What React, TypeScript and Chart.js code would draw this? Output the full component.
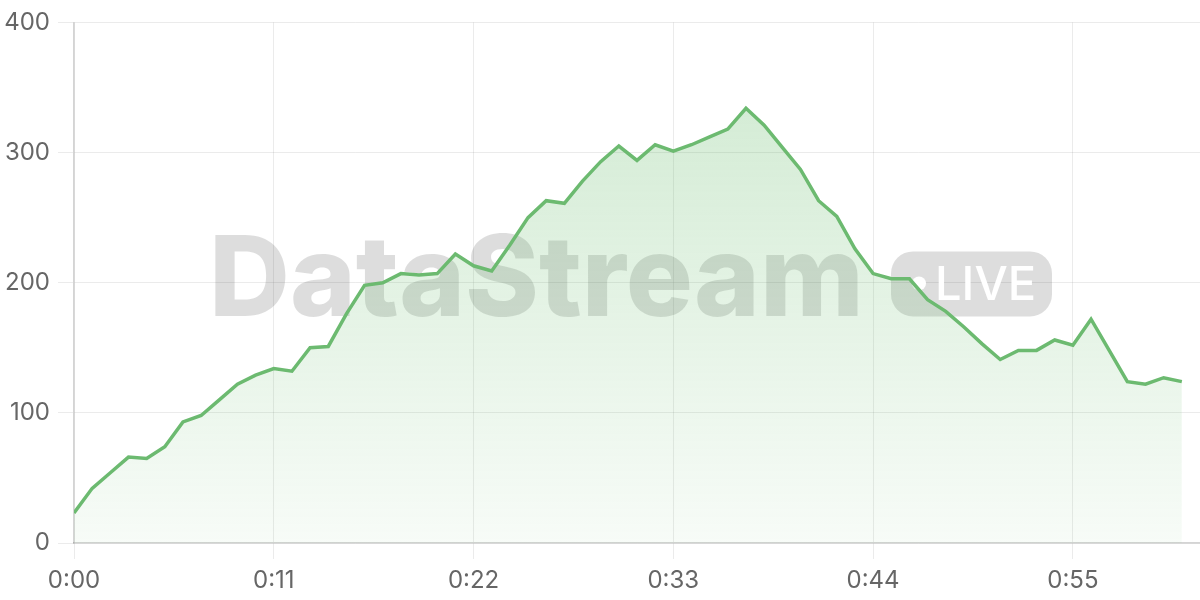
import React, { useEffect, useRef } from "react";
import { Chart, registerables } from "chart.js";

Chart.register(...registerables);

// Elapsed time in seconds for each sample
const SECONDS = [
  0, 1, 2, 3, 4, 5, 6, 7, 8, 9, 10, 11, 12, 13, 14, 15, 16, 17, 18, 19, 20,
  21, 22, 23, 24, 25, 26, 27, 28, 29, 30, 31, 32, 33, 34, 35, 36, 37, 38, 39,
  40, 41, 42, 43, 44, 45, 46, 47, 48, 49, 50, 51, 52, 53, 54, 55, 56, 57, 58,
  59, 60, 61,
];

// Live values
const VALUES = [
  23, 42, 54, 66, 65, 74, 93, 98, 110, 122, 129, 134, 132, 150, 151, 176, 198,
  200, 207, 206, 207, 222, 213, 209, 229, 250, 263, 261, 278, 293, 305, 294,
  306, 301, 306, 312, 318, 334, 321, 304, 287, 263, 251, 226, 207, 203, 203,
  187, 178, 166, 153, 141, 148, 148, 156, 152, 172, 148, 124, 122, 127, 124,
];

const X_TICKS = [0, 11, 22, 33, 44, 55];
const Y_TICKS = [0, 100, 200, 300, 400];

const WATERMARK_TEXT = "DataStream";
const BADGE_TEXT = "LIVE";

const fmtTime = (s: number) => {
  const m = Math.floor(s / 60);
  const r = s % 60;
  return `${m}:${r < 10 ? "0" : ""}${r}`;
};

const watermarkPlugin = {
  id: "watermark",
  beforeDatasetsDraw(chart: any) {
    const { ctx, chartArea } = chart;
    const ox = chartArea.left;
    const oy = chartArea.top;
    ctx.save();
    ctx.fillStyle = "rgba(0,0,0,0.135)";
    ctx.font = "800 112px Inter";
    ctx.textBaseline = "alphabetic";
    ctx.textAlign = "left";
    ctx.fillText(WATERMARK_TEXT, ox + 135, oy + 294);
    // pill
    const px = ox + 817;
    const py = oy + 229;
    const pw = 161;
    const ph = 65;
    const r = 22;
    ctx.beginPath();
    ctx.moveTo(px + r, py);
    ctx.lineTo(px + pw - r, py);
    ctx.arcTo(px + pw, py, px + pw, py + r, r);
    ctx.lineTo(px + pw, py + ph - r);
    ctx.arcTo(px + pw, py + ph, px + pw - r, py + ph, r);
    ctx.lineTo(px + r, py + ph);
    ctx.arcTo(px, py + ph, px, py + ph - r, r);
    ctx.lineTo(px, py + r);
    ctx.arcTo(px, py, px + r, py, r);
    ctx.closePath();
    ctx.fill();
    ctx.fillStyle = "#ffffff";
    ctx.beginPath();
    ctx.arc(px + 28, py + 32, 7, 0, Math.PI * 2);
    ctx.fill();
    ctx.font = "500 47px Inter";
    ctx.fillText(BADGE_TEXT, px + 44, py + 49);
    ctx.restore();
  },
};

export default function App() {
  const ref = useRef<HTMLCanvasElement | null>(null);

  useEffect(() => {
    if (!ref.current) return;
    const chart = new Chart(ref.current, {
      type: "line",
      data: {
        datasets: [
          {
            data: SECONDS.map((s, i) => ({ x: s, y: VALUES[i] })),
            borderColor: "#6cba70",
            borderWidth: 3.5,
            pointRadius: 0,
            tension: 0,
            fill: "origin",
            backgroundColor: (context: any) => {
              const { chart } = context;
              const area = chart.chartArea;
              if (!area) return "rgba(102,187,106,0.2)";
              const g = chart.ctx.createLinearGradient(0, area.top, 0, area.bottom);
              g.addColorStop(0, "rgba(102,187,106,0.32)");
              g.addColorStop(1, "rgba(102,187,106,0.05)");
              return g;
            },
          },
        ],
      },
      options: {
        responsive: false,
        animation: false,
        layout: { padding: { top: 16, left: 5, right: 0, bottom: 0 } },
        plugins: {
          legend: { display: false },
          tooltip: { enabled: false },
        },
        scales: {
          x: {
            type: "linear",
            min: 0,
            max: 62,
            afterBuildTicks: (scale: any) => {
              scale.ticks = X_TICKS.map((v) => ({ value: v }));
            },
            afterFit: (scale: any) => {
              scale.height = 57;
            },
            grid: {
              color: "rgba(0,0,0,0.08)",
              tickLength: 16,
              tickColor: "rgba(0,0,0,0.08)",
            },
            border: { color: "rgba(0,0,0,0.17)", width: 1.5 },
            ticks: {
              padding: 7,
              color: "#666",
              font: { family: "Inter", size: 24 },
              callback: (v: any) => fmtTime(Number(v)),
              maxRotation: 0,
            },
          },
          y: {
            type: "linear",
            min: 0,
            max: 400,
            afterBuildTicks: (scale: any) => {
              scale.ticks = Y_TICKS.map((v) => ({ value: v }));
            },
            afterFit: (scale: any) => {
              scale.width = 69;
            },
            grid: {
              color: "rgba(0,0,0,0.08)",
              tickLength: 16,
              tickColor: "rgba(0,0,0,0.08)",
            },
            border: { color: "rgba(0,0,0,0.17)", width: 1.5 },
            ticks: {
              padding: 8,
              color: "#666",
              font: { family: "Inter", size: 24 },
            },
          },
        },
      },
      plugins: [watermarkPlugin],
    });
    return () => chart.destroy();
  }, []);

  return (
    <div style={{ position: "absolute", left: 0, top: 0, width: 1200, height: 600 }}>
      <canvas ref={ref} width={1200} height={600} />
    </div>
  );
}
